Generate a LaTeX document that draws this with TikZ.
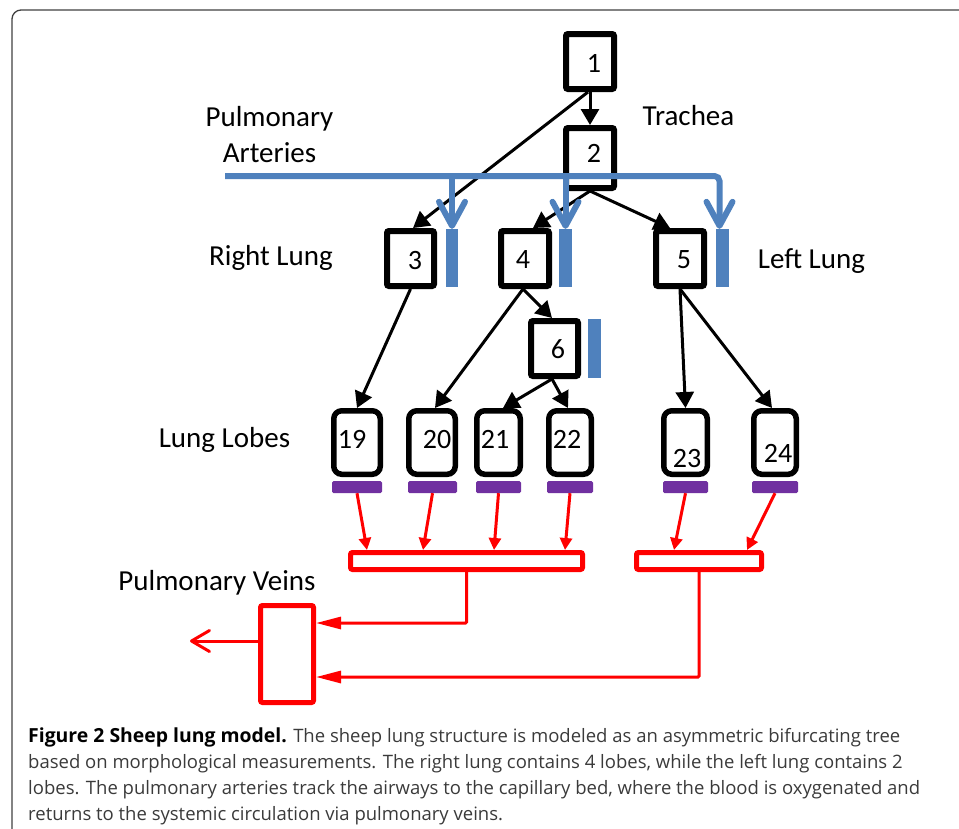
\documentclass[tikz,border=0pt]{standalone}
\usepackage{fontspec}
\setmainfont{Carlito}
\newfontfamily\capfont{Open Sans}
\usetikzlibrary{arrows.meta,calc}
\definecolor{artblue}{HTML}{4F81BD}
\definecolor{lobepurple}{HTML}{7030A0}
\definecolor{vred}{HTML}{FF0000}
\definecolor{framegray}{HTML}{404040}
\definecolor{capgray}{HTML}{3A3A3A}
\begin{document}
\begin{tikzpicture}[x=1pt,y=-1pt,
  airbox/.style={draw=black, line width=6pt, rounded corners=2pt, fill=white, inner sep=0pt},
  lobebox/.style={draw=black, line width=5.5pt, rounded corners=8pt, fill=white, inner sep=0pt, minimum height=63.5pt},
  num/.style={anchor=base, font=\fontsize{28}{30}\selectfont, inner sep=0pt},
  lbl/.style={anchor=base, font=\fontsize{29}{35}\selectfont, inner sep=0pt},
  bbar/.style={fill=artblue, inner sep=0pt, minimum width=12.5pt, minimum height=58pt},
  pbar/.style={fill=lobepurple, rounded corners=1.5pt, inner sep=0pt, minimum height=12pt},
  collect/.style={draw=vred, line width=5pt, rounded corners=2pt, fill=white, inner sep=0pt},
  air/.style={draw=black, line width=3pt, -{Triangle[length=16pt,width=18pt]}},
  art/.style={draw=artblue, line width=6pt, -{Straight Barb[length=24pt,width=26pt,round]}},
  vein/.style={draw=vred, line width=3pt, -{Triangle[length=12pt,width=12pt]}},
  veintrunk/.style={draw=vred, line width=3pt, rounded corners=1pt, -{Triangle[length=25pt,width=12pt]}},
  captext/.style={anchor=base west, inner sep=0pt, font=\capfont\fontsize{18.5}{26}\selectfont, text=capgray}
]
\useasboundingbox (0,0) rectangle (959,828);
\begin{scope}
\clip (0,0) rectangle (959,828);
\draw[framegray, line width=1.3pt, rounded corners=9pt] (12,10) rectangle (1000,900);
\end{scope}

% airway boxes
\node[airbox, minimum width=48pt, minimum height=55pt] (b1) at (590,61.5) {};
\node[airbox, minimum width=48pt, minimum height=60pt] (b2) at (590,158) {};
\node[airbox, minimum width=47pt, minimum height=55pt] (b3) at (410.5,258.5) {};
\node[airbox, minimum width=48pt, minimum height=55pt] (b4) at (525,258.5) {};
\node[airbox, minimum width=48pt, minimum height=55pt] (b5) at (680,258.5) {};
\node[airbox, minimum width=47pt, minimum height=55pt] (b6) at (554.5,348.5) {};
\node[num] (n1) at (594,72) {1};
\node[num] (n2) at (594,162) {2};
\node[num] (n3) at (415,269) {3};
\node[num] (n4) at (523,268) {4};
\node[num] (n5) at (684,268) {5};
\node[num] (n6) at (558,358) {6};

% lobes
\node[lobebox, minimum width=46.5pt] (l19) at (357,442.5) {};
\node[lobebox, minimum width=46.5pt] (l20) at (432,442.5) {};
\node[lobebox, minimum width=43.5pt] (l21) at (498.5,442.5) {};
\node[lobebox, minimum width=42.5pt] (l22) at (570,442.5) {};
\node[lobebox, minimum width=43.5pt] (l23) at (685.5,442.5) {};
\node[lobebox, minimum width=42.5pt] (l24) at (775,442.5) {};
\node[num] (n19) at (352,448) {19};
\node[num] (n20) at (437,448) {20};
\node[num] (n21) at (495,448) {21};
\node[num] (n22) at (567,448) {22};
\node[num] (n23) at (687,467) {23};
\node[num] (n24) at (778,462) {24};

% purple capillary beds
\node[pbar, minimum width=50pt] (p19) at (357,487) {};
\node[pbar, minimum width=49pt] (p20) at (432.5,487) {};
\node[pbar, minimum width=45pt] (p21) at (498.5,487) {};
\node[pbar, minimum width=46pt] (p22) at (570,487) {};
\node[pbar, minimum width=45pt] (p23) at (685.5,487) {};
\node[pbar, minimum width=46pt] (p24) at (775,487) {};

% blue artery bars
\node[bbar, minimum width=12pt] (a3) at (452,258) {};
\node[bbar] (a4) at (565.5,258) {};
\node[bbar] (a5) at (722.5,258) {};
\node[bbar, minimum height=59pt] (a6) at (594.5,348.5) {};

% red collectors
\node[collect, minimum width=232pt, minimum height=17pt] (c1) at (466.5,561) {};
\node[collect, minimum width=125pt, minimum height=17pt] (c2) at (699,561) {};
\node[collect, minimum width=53pt, minimum height=97pt] (v) at (287,654) {};

% labels
\node[lbl] (tpul) at (269.5,126) {Pulmonary};
\node[lbl] (tart) at (269.5,162) {Arteries};
\node[lbl] (ttra) at (688.5,125) {Trachea};
\node[lbl] (trl) at (271,265) {Right Lung};
\node[lbl] (tll) at (811.5,268) {Left Lung};
\node[lbl] (tlobe) at (224.5,447) {Lung Lobes};
\node[lbl] (tvein) at (217,590) {Pulmonary Veins};

% airway connectors
\draw[air] (b1.south) -- (b2.north);
\draw[air] ($(b1.south)+(-2,0)$) -- ($(b3.north)+(2.5,0)$);
\draw[air] (b2.south) -- ($(b4.north)+(8,0)$);
\draw[air] (b2.south) -- ($(b5.north)+(-10,0)$);
\draw[air] (b3.south) -- (l19.north);
\draw[air] ($(b4.south)+(-2,0)$) -- ($(l20.north)+(3,0)$);
\draw[air] ($(b4.south)+(-2,0)$) -- ($(b6.north)+(-2.5,0)$);
\draw[air] ($(b6.south)+(-2.5,0)$) -- ($(l21.north)+(4.5,0)$);
\draw[air] ($(b6.south)+(-2.5,0)$) -- ($(l22.north)+(-2,0)$);
\draw[air] (b5.south) -- (l23.north);
\draw[air] (b5.south) -- ($(l24.north)+(-3,0)$);

% pulmonary arteries
\coordinate (pa) at (225,176);
\draw[art, rounded corners=5pt] (pa) -| ($(a5.north)+(-3,0)$);
\draw[art] (a3.north |- pa) -- (a3.north);
\draw[art] (a4.north |- pa) -- (a4.north);

% veins
\draw[vein] (p19.south) -- ($(c1.north west)+(19,0)$);
\draw[vein] (p20.south) -- ($(c1.north west)+(75,0)$);
\draw[vein] (p21.south) -- ($(c1.north west)+(146,0)$);
\draw[vein] (p22.south) -- ($(c1.north west)+(217,0)$);
\draw[vein] (p23.south) -- ($(c2.north west)+(40,0)$);
\draw[vein] (p24.south) -- ($(c2.north west)+(113,0)$);
\draw[veintrunk] (c1.south) |- ($(v.east)+(0,-31)$);
\draw[veintrunk] (c2.south) |- ($(v.east)+(0,23)$);
\coordinate (out) at (190,641);
\draw[draw=vred, line width=3pt, -{Straight Barb[length=18pt,width=21pt,round]}] ($(v.west)+(0,-13)$) -- (out);

% caption
\node[captext] (cap1) at (28,742) {{\fontsize{19.4}{26}\selectfont\bfseries\color{black}Figure 2 Sheep lung model.} The sheep lung structure is modeled as an asymmetric bifurcating tree};
\node[captext] (cap2) at (28,768) {based on morphological measurements. The right lung contains 4 lobes, while the left lung contains 2};
\node[captext] (cap3) at (28,794) {lobes. The pulmonary arteries track the airways to the capillary bed, where the blood is oxygenated and};
\node[captext] (cap4) at (28,820) {returns to the systemic circulation via pulmonary veins.};
\end{tikzpicture}
\end{document}
